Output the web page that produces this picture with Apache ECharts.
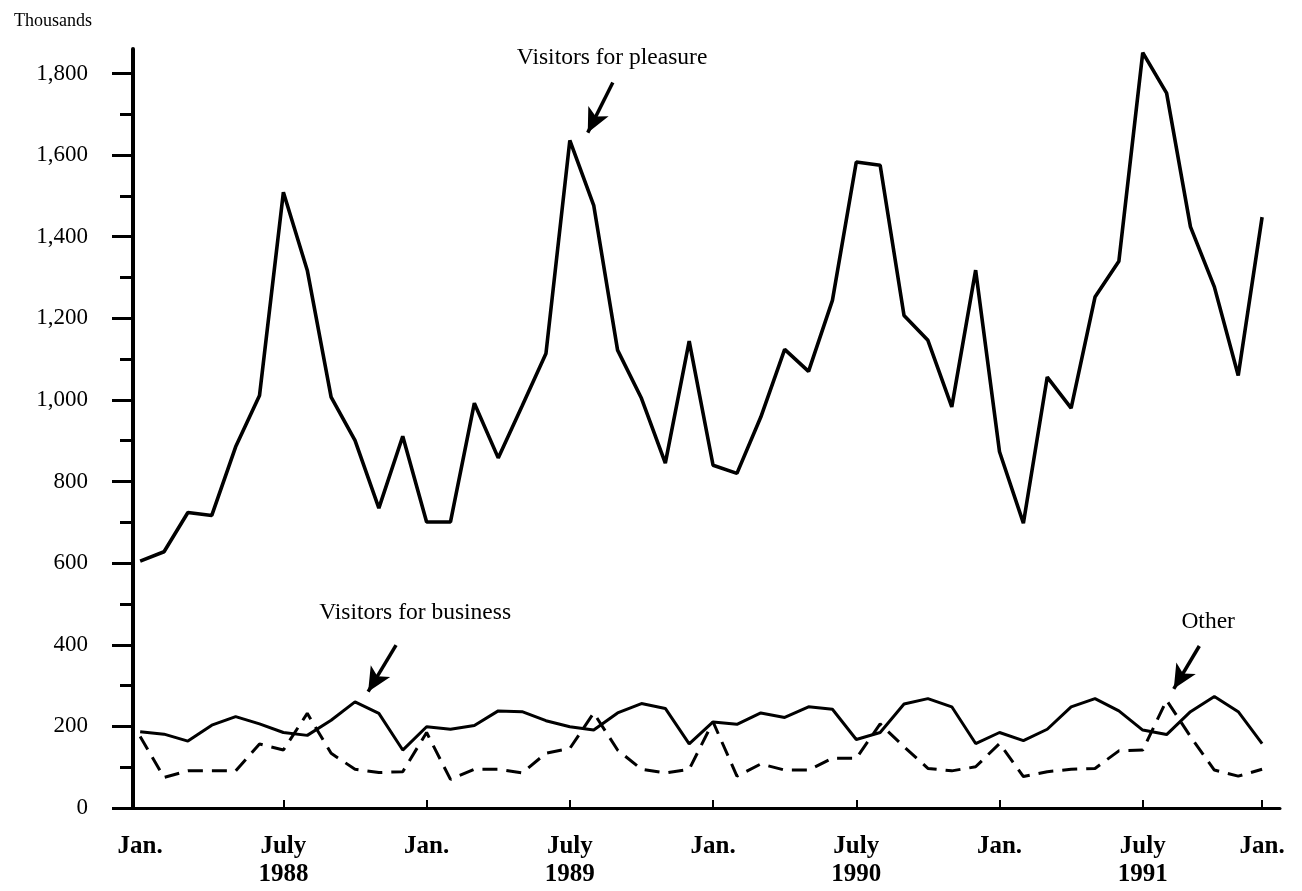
<!DOCTYPE html>
<html>
<head>
<meta charset="utf-8">
<title>Visitors</title>
<script src="https://cdn.jsdelivr.net/npm/echarts@6/dist/echarts.min.js"></script>
<style>
  html, body { margin: 0; padding: 0; background: #fff; }
  #chart { width: 1302px; height: 891px; }
</style>
</head>
<body>
<div id="chart"></div>
<script>
// monthly values, Jan 1988 .. Dec 1991 (thousands)
const pleasure = [605, 628, 724, 717, 885, 1011, 1509, 1318, 1007, 901, 735, 911,
  701, 701, 992, 858, 985, 1114, 1636, 1477, 1122, 1004, 845, 1144,
  840, 820, 958, 1124, 1070, 1244, 1583, 1575, 1207, 1146, 983, 1318,
  873, 698, 1056, 980, 1252, 1340, 1851, 1752, 1424, 1277, 1060, 1448]
const business = [187, 181, 164, 203, 224, 206, 185, 178, 215, 260, 232, 142,
  199, 193, 202, 238, 236, 214, 199, 191, 233, 256, 244, 157,
  211, 205, 233, 222, 248, 242, 168, 185, 255, 268, 248, 158,
  185, 165, 193, 248, 268, 238, 191, 180, 236, 273, 236, 158]
const other = [175, 75, 91, 91, 91, 157, 142, 232, 134, 95, 87, 89,
  185, 70, 95, 95, 86, 134, 146, 233, 142, 95, 86, 95,
  211, 78, 108, 93, 93, 122, 122, 206, 150, 97, 91, 101,
  158, 77, 89, 95, 97, 140, 142, 264, 175, 93, 78, 95]

// x tick positions (month index) and their labels
const xTicks = [0, 6, 12, 18, 24, 30, 36, 42, 47]
const xLabels = ['Jan.', 'July\n1988', 'Jan.', 'July\n1989', 'Jan.', 'July\n1990', 'Jan.', 'July\n1991', 'Jan.']
const yMajor = [0, 200, 400, 600, 800, 1000, 1200, 1400, 1600, 1800]
const yMinor = [100, 300, 500, 700, 900, 1100, 1300, 1500, 1700]

const serif = "'Liberation Serif', 'DejaVu Serif', serif"
const toPairs = (arr) => arr.map((v, i) => [i, v])

// annotation: text spot and arrow, in data coordinates
function note (text, at, from, to) {
  return {
    markPoint: {
      silent: true,
      symbol: 'circle',
      symbolSize: 0,
      label: { show: true, position: 'inside', formatter: text, color: '#000', fontFamily: serif, fontSize: 23.5 },
      data: [{ coord: at }]
    },
    markLine: {
      silent: true,
      animation: false,
      symbol: ['none', 'arrow'],
      symbolSize: [17, 24],
      label: { show: false },
      lineStyle: { color: '#000', width: 3.5, type: 'solid' },
      data: [[{ coord: from }, { coord: to }]]
    }
  }
}

const chart = echarts.init(document.getElementById('chart'))
chart.setOption({
  backgroundColor: '#fff',
  animation: false,
  title: {
    text: 'Thousands',
    left: 9,
    top: 7,
    textStyle: { fontFamily: serif, fontSize: 18, fontWeight: 'normal', color: '#000' }
  },
  grid: { left: 133, right: 22, top: 49, bottom: 83, outerBoundsMode: 'none' },
  xAxis: {
    type: 'value',
    min: -0.3,
    max: 47.75,
    splitLine: { show: false },
    axisLine: { lineStyle: { color: '#000', width: 3 } },
    axisTick: { inside: true, length: 8, lineStyle: { color: '#000', width: 2 }, customValues: xTicks.slice(1) },
    axisLabel: {
      customValues: xTicks,
      margin: 25,
      color: '#000',
      fontFamily: serif,
      fontSize: 25,
      fontWeight: 'bold',
      lineHeight: 28,
      formatter: (v) => xLabels[xTicks.indexOf(Math.round(v))] || ''
    }
  },
  yAxis: [
    {
      type: 'value',
      min: 0,
      max: 1860,
      splitLine: { show: false },
      axisLine: { show: true, onZero: false, lineStyle: { color: '#000', width: 4 } },
      axisTick: { length: 21, lineStyle: { color: '#000', width: 3 }, customValues: yMajor },
      axisLabel: {
        customValues: yMajor,
        margin: 45,
        color: '#000',
        fontFamily: serif,
        fontSize: 23,
        formatter: (v) => v.toLocaleString('en-US')
      }
    },
    {
      // minor ticks only
      type: 'value',
      min: 0,
      max: 1860,
      position: 'left',
      splitLine: { show: false },
      axisLine: { show: false, onZero: false },
      axisTick: { length: 13, lineStyle: { color: '#000', width: 3 }, customValues: yMinor },
      axisLabel: { show: false }
    }
  ],
  series: [
    Object.assign({
      name: 'Visitors for pleasure',
      type: 'line',
      data: toPairs(pleasure),
      showSymbol: false,
      lineStyle: { color: '#000', width: 3.6, join: 'bevel' }
    }, note('Visitors for pleasure', [19.77, 1839], [19.8, 1778], [18.75, 1655])),
    Object.assign({
      name: 'Visitors for business',
      type: 'line',
      data: toPairs(business),
      showSymbol: false,
      lineStyle: { color: '#000', width: 3, join: 'bevel' }
    }, note('Visitors for business', [11.52, 478], [10.72, 399], [9.55, 285])),
    Object.assign({
      name: 'Other',
      type: 'line',
      data: toPairs(other),
      showSymbol: false,
      lineStyle: { color: '#000', width: 3, type: [15, 9], join: 'bevel' }
    }, note('Other', [44.74, 456], [44.37, 397], [43.3, 292]))
  ]
})
</script>
</body>
</html>
